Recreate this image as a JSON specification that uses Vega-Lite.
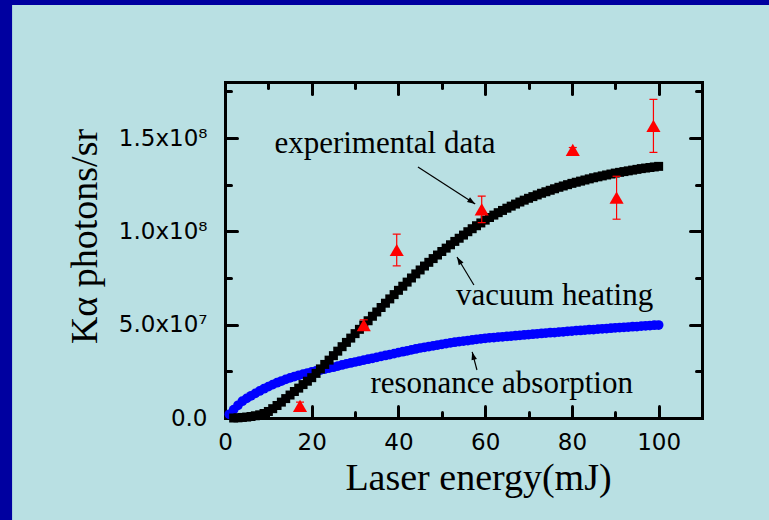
{
  "$schema": "https://vega.github.io/schema/vega-lite/v6.json",
  "width": 477,
  "height": 336,
  "autosize": "none",
  "padding": {"left": 225, "top": 82, "right": 67, "bottom": 102},
  "background": "#b9e0e3",
  "config": {
    "view": {"stroke": null},
    "axis": {
      "grid": false,
      "domainColor": "#000000",
      "domainWidth": 3,
      "domainCap": "square",
      "tickColor": "#000000",
      "tickWidth": 3,
      "tickCap": "round",
      "labelFont": "DejaVu Sans",
      "labelFontSize": 23,
      "labelColor": "#000000",
      "labelFlush": false,
      "labelOverlap": false,
      "labelBound": false,
      "titleFont": "Liberation Serif",
      "titleFontSize": 38,
      "titleFontWeight": "normal",
      "titleColor": "#000000"
    }
  },
  "datasets": {
    "resonance": [
      {"e":1,"k":2e6},{"e":2,"k":4.5e6},{"e":3,"k":6.8e6},{"e":4,"k":9e6},{"e":5,"k":10.5e6},
      {"e":6,"k":11.9e6},{"e":7,"k":13.2e6},{"e":8,"k":14.5e6},{"e":9,"k":15.7e6},{"e":10,"k":16.8e6},
      {"e":11,"k":17.9e6},{"e":12,"k":18.9e6},{"e":13,"k":19.8e6},{"e":14,"k":20.7e6},{"e":15,"k":21.5e6},
      {"e":16,"k":22.2e6},{"e":17,"k":22.9e6},{"e":18,"k":23.5e6},{"e":19,"k":24.1e6},{"e":20,"k":24.7e6},
      {"e":21,"k":25.2e6},{"e":22,"k":25.7e6},{"e":23,"k":26.2e6},{"e":24,"k":26.7e6},{"e":25,"k":27.2e6},
      {"e":26,"k":27.8e6},{"e":27,"k":28.4e6},{"e":28,"k":29e6},{"e":29,"k":29.5e6},{"e":30,"k":30e6},
      {"e":31,"k":30.5e6},{"e":32,"k":31e6},{"e":33,"k":31.5e6},{"e":34,"k":32e6},{"e":35,"k":32.5e6},
      {"e":36,"k":33e6},{"e":37,"k":33.5e6},{"e":38,"k":34e6},{"e":39,"k":34.5e6},{"e":40,"k":35e6},
      {"e":41,"k":35.5e6},{"e":42,"k":36e6},{"e":43,"k":36.5e6},{"e":44,"k":37e6},{"e":45,"k":37.5e6},
      {"e":46,"k":37.9e6},{"e":47,"k":38.3e6},{"e":48,"k":38.7e6},{"e":49,"k":39.1e6},{"e":50,"k":39.5e6},
      {"e":51,"k":39.9e6},{"e":52,"k":40.3e6},{"e":53,"k":40.6e6},{"e":54,"k":40.9e6},{"e":55,"k":41.2e6},
      {"e":56,"k":41.5e6},{"e":57,"k":41.8e6},{"e":58,"k":42.1e6},{"e":59,"k":42.4e6},{"e":60,"k":42.7e6},
      {"e":61,"k":42.9e6},{"e":62,"k":43.1e6},{"e":63,"k":43.3e6},{"e":64,"k":43.5e6},{"e":65,"k":43.7e6},
      {"e":66,"k":43.9e6},{"e":67,"k":44.1e6},{"e":68,"k":44.3e6},{"e":69,"k":44.5e6},{"e":70,"k":44.7e6},
      {"e":71,"k":44.9e6},{"e":72,"k":45.1e6},{"e":73,"k":45.3e6},{"e":74,"k":45.5e6},{"e":75,"k":45.7e6},
      {"e":76,"k":45.8e6},{"e":77,"k":46e6},{"e":78,"k":46.2e6},{"e":79,"k":46.4e6},{"e":80,"k":46.6e6},
      {"e":81,"k":46.8e6},{"e":82,"k":46.9e6},{"e":83,"k":47.1e6},{"e":84,"k":47.3e6},{"e":85,"k":47.4e6},
      {"e":86,"k":47.6e6},{"e":87,"k":47.8e6},{"e":88,"k":47.9e6},{"e":89,"k":48.1e6},{"e":90,"k":48.3e6},
      {"e":91,"k":48.4e6},{"e":92,"k":48.6e6},{"e":93,"k":48.7e6},{"e":94,"k":48.9e6},{"e":95,"k":49e6},
      {"e":96,"k":49.2e6},{"e":97,"k":49.4e6},{"e":98,"k":49.5e6},{"e":99,"k":49.7e6},{"e":100,"k":49.8e6}
    ],
    "vacuum": [
      {"e":2,"k":0},{"e":3,"k":0.1e6},{"e":4,"k":0.3e6},{"e":5,"k":0.5e6},
      {"e":6,"k":0.8e6},{"e":7,"k":1.2e6},{"e":8,"k":1.7e6},{"e":9,"k":2.4e6},{"e":10,"k":3.5e6},
      {"e":11,"k":5e6},{"e":12,"k":6.7e6},{"e":13,"k":8.5e6},{"e":14,"k":10.4e6},{"e":15,"k":12.3e6},
      {"e":16,"k":14.2e6},{"e":17,"k":16e6},{"e":18,"k":17.9e6},{"e":19,"k":19.7e6},{"e":20,"k":21.6e6},
      {"e":21,"k":23.9e6},{"e":22,"k":26.3e6},{"e":23,"k":28.7e6},{"e":24,"k":31e6},{"e":25,"k":33.4e6},
      {"e":26,"k":35.8e6},{"e":27,"k":38.2e6},{"e":28,"k":40.5e6},{"e":29,"k":42.8e6},{"e":30,"k":45.2e6},
      {"e":31,"k":47.5e6},{"e":32,"k":49.8e6},{"e":33,"k":52.1e6},{"e":34,"k":54.5e6},{"e":35,"k":56.8e6},
      {"e":36,"k":59.2e6},{"e":37,"k":61.5e6},{"e":38,"k":63.8e6},{"e":39,"k":66.1e6},{"e":40,"k":68.4e6},
      {"e":41,"k":70.6e6},{"e":42,"k":72.8e6},{"e":43,"k":75e6},{"e":44,"k":77.2e6},{"e":45,"k":79.3e6},
      {"e":46,"k":81.4e6},{"e":47,"k":83.4e6},{"e":48,"k":85.4e6},{"e":49,"k":87.3e6},{"e":50,"k":89.2e6},
      {"e":51,"k":91e6},{"e":52,"k":92.8e6},{"e":53,"k":94.6e6},{"e":54,"k":96.3e6},{"e":55,"k":98e6},
      {"e":56,"k":99.8e6},{"e":57,"k":101.4e6},{"e":58,"k":103e6},{"e":59,"k":104.5e6},{"e":60,"k":106e6},
      {"e":61,"k":107.4e6},{"e":62,"k":108.7e6},{"e":63,"k":110e6},{"e":64,"k":111.2e6},{"e":65,"k":112.4e6},
      {"e":66,"k":113.5e6},{"e":67,"k":114.6e6},{"e":68,"k":115.7e6},{"e":69,"k":116.7e6},{"e":70,"k":117.7e6},
      {"e":71,"k":118.6e6},{"e":72,"k":119.5e6},{"e":73,"k":120.4e6},{"e":74,"k":121.2e6},{"e":75,"k":122e6},
      {"e":76,"k":122.8e6},{"e":77,"k":123.6e6},{"e":78,"k":124.3e6},{"e":79,"k":125e6},{"e":80,"k":125.7e6},
      {"e":81,"k":126.3e6},{"e":82,"k":126.9e6},{"e":83,"k":127.5e6},{"e":84,"k":128.1e6},{"e":85,"k":128.7e6},
      {"e":86,"k":129.2e6},{"e":87,"k":129.7e6},{"e":88,"k":130.2e6},{"e":89,"k":130.7e6},{"e":90,"k":131.2e6},
      {"e":91,"k":131.6e6},{"e":92,"k":132e6},{"e":93,"k":132.4e6},{"e":94,"k":132.8e6},{"e":95,"k":133.2e6},
      {"e":96,"k":133.6e6},{"e":97,"k":133.9e6},{"e":98,"k":134.2e6},{"e":99,"k":134.5e6},{"e":100,"k":134.8e6}
    ],
    "measured": [
      {"e":17.3,"k":6.5e6,"lo":4.5e6,"hi":8.5e6},
      {"e":32,"k":49.8e6,"lo":47e6,"hi":52.6e6},
      {"e":39.6,"k":90e6,"lo":81.5e6,"hi":98.5e6},
      {"e":59.2,"k":111.8e6,"lo":104.7e6,"hi":118.9e6},
      {"e":80.2,"k":143.6e6,"lo":142.3e6,"hi":144.9e6},
      {"e":90.3,"k":118e6,"lo":106.5e6,"hi":129.5e6},
      {"e":98.8,"k":156.5e6,"lo":142.3e6,"hi":170.7e6}
    ],
    "notes": [
      {"t":"experimental data","e":36.9,"k":142e6},
      {"t":"vacuum heating","e":76,"k":60.5e6},
      {"t":"resonance absorption","e":63.8,"k":13.4e6}
    ],
    "pointers": [
      {"id":1,"e":44.5,"k":134.5e6,"e2":57.7,"k2":114.6e6},
      {"id":2,"e":57.4,"k":71.25e6,"e2":53.5,"k2":86.25e6},
      {"id":3,"e":58.1,"k":25.7e6,"e2":57,"k2":35.4e6}
    ]
  },
  "resolve": {"axis": {"x": "independent", "y": "independent"}},
  "layer": [
    {
      "data": {"values": [{}]},
      "mark": {"type": "rect", "color": "#0000a0"},
      "encoding": {
        "x": {"datum": -60, "type": "quantitative", "scale": {"domain": [0, 110], "nice": false}, "axis": null},
        "x2": {"datum": -49.1},
        "y": {"datum": -0.6e8, "type": "quantitative", "scale": {"domain": [0, 1.8e8], "nice": false}, "axis": null},
        "y2": {"datum": 2.3e8}
      }
    },
    {
      "data": {"values": [{}]},
      "mark": {"type": "rect", "color": "#0000a0"},
      "encoding": {
        "x": {"datum": -60, "type": "quantitative", "scale": {"domain": [0, 110], "nice": false}, "axis": null},
        "x2": {"datum": 130},
        "y": {"datum": 2.212e8, "type": "quantitative", "scale": {"domain": [0, 1.8e8], "nice": false}, "axis": null},
        "y2": {"datum": 2.3e8}
      }
    },
    {
      "data": {"name": "resonance"},
      "mark": {"type": "point", "shape": "circle", "filled": true, "color": "#0000ff", "opacity": 1, "size": 95},
      "encoding": {
        "x": {
          "field": "e", "type": "quantitative",
          "scale": {"domain": [0, 110], "nice": false},
          "axis": {"orient": "bottom", "values": [0, 20, 40, 60, 80, 100], "tickSize": -12, "labelPadding": 25,
                   "title": "Laser energy(mJ)", "titleX": 253, "titlePadding": 5}
        },
        "y": {
          "field": "k", "type": "quantitative",
          "scale": {"domain": [0, 1.8e8], "nice": false},
          "axis": {"orient": "left", "values": [0, 5e7, 1e8, 1.5e8], "tickSize": -12, "labelPadding": 30,
                   "labelExpr": "datum.value == 0 ? '0.0' : datum.value == 5e7 ? '5.0x10⁷' : datum.value == 1e8 ? '1.0x10⁸' : '1.5x10⁸'",
                   "title": "Kα photons/sr", "titleY": 154, "titlePadding": 14}
        }
      }
    },
    {
      "data": {"name": "vacuum"},
      "mark": {"type": "point", "shape": "square", "filled": true, "color": "#000000", "opacity": 1, "size": 81},
      "encoding": {
        "x": {
          "field": "e", "type": "quantitative",
          "scale": {"domain": [0, 110], "nice": false},
          "axis": {"orient": "top", "values": [0, 20, 40, 60, 80, 100], "tickSize": -12, "labels": false, "title": null}
        },
        "y": {
          "field": "k", "type": "quantitative",
          "scale": {"domain": [0, 1.8e8], "nice": false},
          "axis": {"orient": "right", "values": [0, 5e7, 1e8, 1.5e8], "tickSize": -12, "labels": false, "title": null}
        }
      }
    },
    {
      "data": {"name": "measured"},
      "mark": {"type": "rule", "color": "#ff0000", "strokeWidth": 1.2},
      "encoding": {
        "x": {
          "field": "e", "type": "quantitative",
          "scale": {"domain": [0, 110], "nice": false},
          "axis": {"orient": "bottom", "values": [10, 30, 50, 70, 90], "tickSize": -6, "labels": false, "domain": false, "title": null}
        },
        "y": {
          "field": "lo", "type": "quantitative",
          "scale": {"domain": [0, 1.8e8], "nice": false},
          "axis": {"orient": "left", "values": [2.5e7, 7.5e7, 1.25e8, 1.75e8], "tickSize": -6, "labels": false, "domain": false, "title": null}
        },
        "y2": {"field": "hi"}
      }
    },
    {
      "data": {"name": "measured"},
      "mark": {"type": "tick", "orient": "horizontal", "color": "#ff0000", "size": 8, "thickness": 1.2, "opacity": 1},
      "encoding": {
        "x": {
          "field": "e", "type": "quantitative",
          "scale": {"domain": [0, 110], "nice": false},
          "axis": {"orient": "top", "values": [10, 30, 50, 70, 90], "tickSize": -6, "labels": false, "domain": false, "title": null}
        },
        "y": {
          "field": "hi", "type": "quantitative",
          "scale": {"domain": [0, 1.8e8], "nice": false},
          "axis": {"orient": "right", "values": [2.5e7, 7.5e7, 1.25e8, 1.75e8], "tickSize": -6, "labels": false, "domain": false, "title": null}
        }
      }
    },
    {
      "data": {"name": "measured"},
      "mark": {"type": "tick", "orient": "horizontal", "color": "#ff0000", "size": 8, "thickness": 1.2, "opacity": 1},
      "encoding": {
        "x": {"field": "e", "type": "quantitative", "scale": {"domain": [0, 110], "nice": false}, "axis": null},
        "y": {"field": "lo", "type": "quantitative", "scale": {"domain": [0, 1.8e8], "nice": false}, "axis": null}
      }
    },
    {
      "data": {"name": "measured"},
      "mark": {"type": "point", "shape": "triangle-up", "filled": true, "color": "#ff0000", "opacity": 1, "size": 200},
      "encoding": {
        "x": {"field": "e", "type": "quantitative", "scale": {"domain": [0, 110], "nice": false}, "axis": null},
        "y": {"field": "k", "type": "quantitative", "scale": {"domain": [0, 1.8e8], "nice": false}, "axis": null}
      }
    },
    {
      "data": {"name": "pointers"},
      "mark": {"type": "rule", "color": "#000000", "strokeWidth": 1.2},
      "encoding": {
        "x": {"field": "e", "type": "quantitative", "scale": {"domain": [0, 110], "nice": false}, "axis": null},
        "y": {"field": "k", "type": "quantitative", "scale": {"domain": [0, 1.8e8], "nice": false}, "axis": null},
        "x2": {"field": "e2"},
        "y2": {"field": "k2"}
      }
    },
    {
      "data": {"name": "pointers"},
      "transform": [{"filter": "datum.id == 1"}],
      "mark": {"type": "point", "shape": "M0,0L0.35,1L-0.35,1Z", "filled": true, "color": "#000000", "opacity": 1, "size": 256, "angle": 123},
      "encoding": {
        "x": {"field": "e2", "type": "quantitative", "scale": {"domain": [0, 110], "nice": false}, "axis": null},
        "y": {"field": "k2", "type": "quantitative", "scale": {"domain": [0, 1.8e8], "nice": false}, "axis": null}
      }
    },
    {
      "data": {"name": "pointers"},
      "transform": [{"filter": "datum.id == 2"}],
      "mark": {"type": "point", "shape": "M0,0L0.35,1L-0.35,1Z", "filled": true, "color": "#000000", "opacity": 1, "size": 256, "angle": -31},
      "encoding": {
        "x": {"field": "e2", "type": "quantitative", "scale": {"domain": [0, 110], "nice": false}, "axis": null},
        "y": {"field": "k2", "type": "quantitative", "scale": {"domain": [0, 1.8e8], "nice": false}, "axis": null}
      }
    },
    {
      "data": {"name": "pointers"},
      "transform": [{"filter": "datum.id == 3"}],
      "mark": {"type": "point", "shape": "M0,0L0.35,1L-0.35,1Z", "filled": true, "color": "#000000", "opacity": 1, "size": 256, "angle": -15},
      "encoding": {
        "x": {"field": "e2", "type": "quantitative", "scale": {"domain": [0, 110], "nice": false}, "axis": null},
        "y": {"field": "k2", "type": "quantitative", "scale": {"domain": [0, 1.8e8], "nice": false}, "axis": null}
      }
    },
    {
      "data": {"name": "notes"},
      "mark": {"type": "text", "font": "Liberation Serif", "fontSize": 31, "color": "#000000", "align": "center", "baseline": "alphabetic"},
      "encoding": {
        "x": {"field": "e", "type": "quantitative", "scale": {"domain": [0, 110], "nice": false}, "axis": null},
        "y": {"field": "k", "type": "quantitative", "scale": {"domain": [0, 1.8e8], "nice": false}, "axis": null},
        "text": {"field": "t"}
      }
    }
  ]
}
